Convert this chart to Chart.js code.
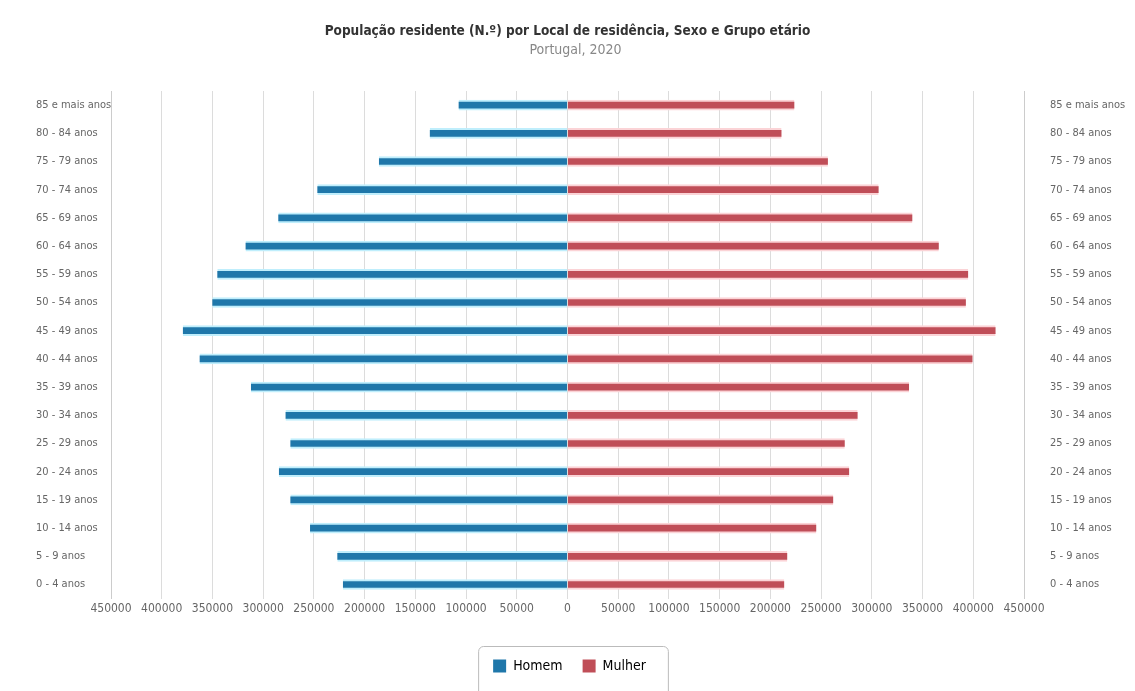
<!DOCTYPE html>
<html>
<head>
<meta charset="utf-8">
<script src="https://cdn.jsdelivr.net/npm/chart.js@4/dist/chart.umd.min.js"></script>
<style>
  html, body { margin: 0; padding: 0; background: #fff; }
  #wrap { width: 1135px; height: 691px; }
</style>
</head>
<body>
<div id="wrap"><canvas id="chart"></canvas></div>
<script>
// Pirâmide etária — Portugal, 2020

const ageGroups = [
  '85 e mais anos', '80 - 84 anos', '75 - 79 anos', '70 - 74 anos',
  '65 - 69 anos', '60 - 64 anos', '55 - 59 anos', '50 - 54 anos',
  '45 - 49 anos', '40 - 44 anos', '35 - 39 anos', '30 - 34 anos',
  '25 - 29 anos', '20 - 24 anos', '15 - 19 anos', '10 - 14 anos',
  '5 - 9 anos', '0 - 4 anos'
];

const homem = [
  107400, 135800, 185900, 246600, 285100, 317400, 345200, 350100, 379200,
  362700, 312000, 278000, 273200, 284500, 273200, 253800, 226900, 221400
];

const mulher = [
  223700, 211000, 256700, 306700, 340000, 366000, 395000, 392700, 422000,
  399300, 336700, 286000, 273300, 277700, 262000, 245300, 216700, 213700
];

const xTicks = [-450000, -400000, -350000, -300000, -250000, -200000, -150000, -100000, -50000,
  0, 50000, 100000, 150000, 200000, 250000, 300000, 350000, 400000, 450000];

const FONT = "'DejaVu Sans Condensed', 'DejaVu Sans', sans-serif";

// títulos e legenda um pouco à esquerda + caixa à volta da legenda
const legendBox = {
  id: 'legendBox',
  afterLayout(chart) {
    chart.legend.left -= 16;
    chart.legend.right -= 16;
    for (const b of chart.boxes) {
      if (b === chart.legend || !b.options || b.options.text === undefined) continue;
      const dx = b === chart.titleBlock ? 18 : 10;
      b.left -= dx;
      b.right -= dx;
    }
  },
  afterDraw(chart) {
    const boxes = chart.legend.legendHitBoxes;
    if (!boxes || !boxes.length) return;
    const left  = Math.min(...boxes.map(b => b.left)) - 15;
    const right = Math.max(...boxes.map(b => b.left + b.width)) + 22;
    const top   = Math.min(...boxes.map(b => b.top)) - 13;
    const ctx = chart.ctx;
    ctx.save();
    ctx.strokeStyle = '#bbb';
    ctx.lineWidth = 1;
    ctx.beginPath();
    ctx.roundRect(left + 0.5, top + 0.5, right - left, chart.height - top + 10, 5);
    ctx.stroke();
    ctx.restore();
  }
};

new Chart(document.getElementById('chart'), {
  type: 'bar',
  data: {
    labels: ageGroups,
    datasets: [
      {
        label: 'Homem',
        data: homem.map(v => -v),
        backgroundColor: '#1f77aa',
        borderColor: '#bfeefc',
        borderWidth: { top: 2, bottom: 2, left: 0, right: 0 },
        borderSkipped: false,
        barThickness: 10
      },
      {
        label: 'Mulher',
        data: mulher,
        backgroundColor: '#c04e58',
        borderColor: '#fbd3d6',
        borderWidth: { top: 2, bottom: 2, left: 0, right: 0 },
        borderSkipped: false,
        barThickness: 10
      }
    ]
  },
  options: {
    indexAxis: 'y',
    responsive: true,
    maintainAspectRatio: false,
    animation: false,
    layout: { padding: { top: 23, left: 36, right: 0, bottom: 8 } },
    plugins: {
      title: {
        display: true,
        text: 'População residente (N.º) por Local de residência, Sexo e Grupo etário',
        color: '#333',
        font: { family: FONT, size: 13.5, weight: 'bold' },
        padding: { top: 0, bottom: 3 }
      },
      subtitle: {
        display: true,
        text: 'Portugal, 2020',
        color: '#888',
        font: { family: FONT, size: 14 },
        padding: { bottom: 32 }
      },
      legend: {
        position: 'bottom',
        labels: {
          color: '#333',
          font: { family: FONT, size: 14 },
          boxWidth: 13,
          boxHeight: 13,
          padding: 20,
          generateLabels: chart => chart.data.datasets.map((ds, i) => ({
            text: ds.label,
            fillStyle: ds.backgroundColor,
            strokeStyle: ds.backgroundColor,
            lineWidth: 0,
            datasetIndex: i
          }))
        }
      },
      tooltip: {
        callbacks: {
          label: ctx => `${ctx.dataset.label}: ${Math.abs(ctx.parsed.x)}`
        }
      }
    },
    scales: {
      x: {
        stacked: true,
        min: -450000,
        max: 450000,
        afterBuildTicks: axis => { axis.ticks = xTicks.map(v => ({ value: v })); },
        afterFit: axis => { axis.height += 20; },
        ticks: {
          color: '#666',
          font: { family: FONT, size: 12 },
          maxRotation: 0,
          autoSkip: false,
          callback: v => Math.abs(v)
        },
        grid: { color: '#dcdcdc', drawTicks: false },
        border: { display: false }
      },
      y: {
        stacked: true,
        position: 'left',
        afterFit: axis => { axis.width = 75; },
        ticks: {
          color: '#666',
          crossAlign: 'far',
          font: { family: FONT, size: 11 }
        },
        grid: { display: false },
        border: { display: true, color: '#ccc' }
      },
      y2: {
        type: 'category',
        position: 'right',
        offset: true,
        afterFit: axis => { axis.width = 111; },
        ticks: {
          color: '#666',
          padding: 18,
          font: { family: FONT, size: 11 }
        },
        grid: { display: false },
        border: { display: true, color: '#ccc', dash: [2, 2] }
      }
    }
  },
  plugins: [legendBox]
});
</script>
</body>
</html>
